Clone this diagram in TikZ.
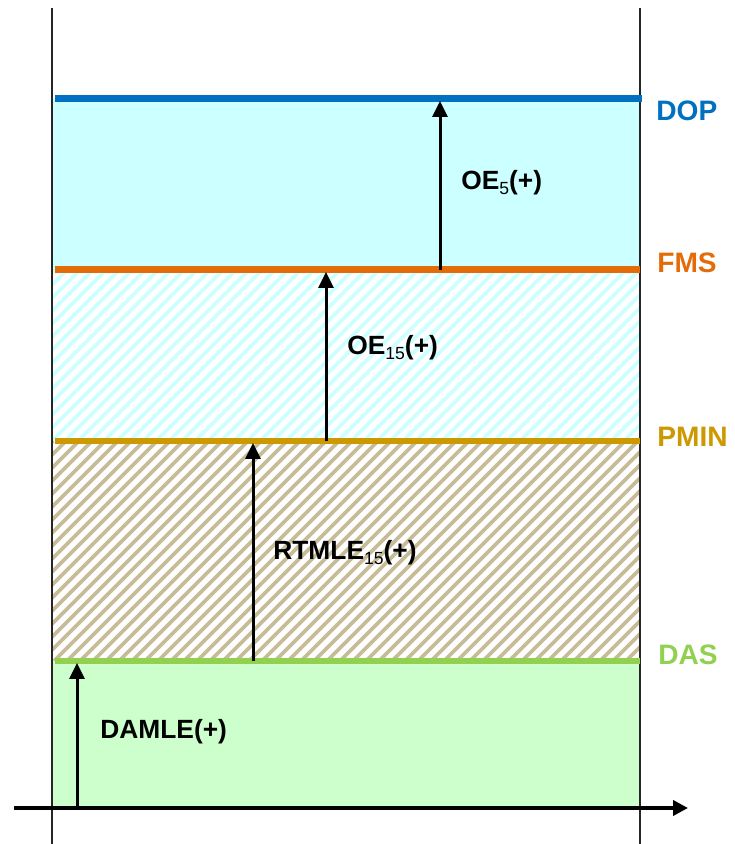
\documentclass[tikz,border=0pt]{standalone}
\usepackage{fontspec}
\setmainfont{Liberation Sans}
\usepackage{xcolor}
\usetikzlibrary{arrows.meta, positioning, calc}
\definecolor{dopblue}{HTML}{0070C0}
\definecolor{fmsorange}{HTML}{E36C09}
\definecolor{pmingold}{HTML}{CC9900}
\definecolor{dasgreen}{HTML}{92D050}
\definecolor{cyanfill}{HTML}{CCFFFF}
\definecolor{greenfill}{HTML}{CCFFCC}
\definecolor{tanstripe}{HTML}{C6BC98}
\tikzset{
    border/.style={line width=0.04cm, black!85},
    level/.style={line width=0.14cm},
    axis/.style={-{Triangle[length=0.3cm, width=0.3cm]}, line width=0.09cm},
    rise/.style={-{Triangle[length=0.32cm, width=0.3cm]}, line width=0.06cm},
    stripe/.style={line width=0.075cm, #1},
    inlabel/.style={anchor=base west, inner sep=0pt, font=\fontsize{15}{18}\selectfont\bfseries},
    lvllabel/.style={anchor=base west, inner sep=0pt, font=\fontsize{16}{19}\selectfont\bfseries}
}
\newcommand{\subs}[1]{\raisebox{-2.3pt}{\fontsize{10}{12}\selectfont\mdseries #1}}

\begin{document}
\begin{tikzpicture}[x=0.02cm, y=0.02cm]
    \useasboundingbox (0,0) rectangle (734,844);
    % Bands
    \fill[greenfill] (52,36) rectangle (640,183);
    \begin{scope}
        \clip (52,183) rectangle (640,403);
        \foreach \s in {-180,-167,...,640}
            \draw[stripe=tanstripe] (\s,183) -- ++(220,220);
    \end{scope}
    \begin{scope}
        \clip (52,403) rectangle (640,574);
        \foreach \s in {-130,-117,...,640}
            \draw[stripe=cyanfill] (\s,403) -- ++(171,171);
    \end{scope}
    \fill[cyanfill] (52,574) rectangle (640,745);
    % Frame
    \coordinate (frameTL) at (52,836);
    \coordinate (frameBL) at (52,0);
    \coordinate (frameTR) at (640,836);
    \coordinate (frameBR) at (640,0);
    \draw[border] (frameTL) -- (frameBL);
    \draw[border] (frameTR) -- (frameBR);
    % Levels
    \coordinate (dopL) at (55,745);  \coordinate (dopR) at (642,745);
    \coordinate (fmsL) at (55,574);  \coordinate (fmsR) at (640,574);
    \coordinate (pminL) at (55,403); \coordinate (pminR) at (640,403);
    \coordinate (dasL) at (55,183);  \coordinate (dasR) at (640,183);
    \draw[level, dopblue] (dopL) -- (dopR);
    \draw[level, fmsorange] (fmsL) -- (fmsR);
    \draw[level, pmingold, line width=0.11cm] (pminL) -- (pminR);
    \draw[level, dasgreen, line width=0.11cm] (dasL) -- (dasR);
    \node[lvllabel, dopblue] (dop) at (656,723) {DOP};
    \node[lvllabel, fmsorange] (fms) at (657,571) {FMS};
    \node[lvllabel, pmingold] (pmin) at (657,397) {PMIN};
    \node[lvllabel, dasgreen] (das) at (658,179) {DAS};
    % Axis
    \coordinate (axisL) at (14,36);
    \coordinate (axisR) at (688,36);
    \draw[axis] (axisL) -- (axisR);
    % Margins
    \coordinate (damleFoot) at (77,36);   \coordinate (damleTip) at (77,181);
    \coordinate (rtmleFoot) at (253,183); \coordinate (rtmleTip) at (253,401);
    \coordinate (oeXVFoot) at (326,403);  \coordinate (oeXVTip) at (326,572);
    \coordinate (oeVFoot) at (440,574);   \coordinate (oeVTip) at (440,743);
    \draw[rise] (damleFoot) -- (damleTip);
    \draw[rise] (rtmleFoot) -- (rtmleTip);
    \draw[rise] (oeXVFoot) -- (oeXVTip);
    \draw[rise] (oeVFoot) -- (oeVTip);
    \node[inlabel] (damle) at (100,105) {DAMLE(+)};
    \node[inlabel] (rtmle) at (273,284) {RTMLE\subs{15}(+)};
    \node[inlabel] (oeXV) at (347,489) {OE\subs{15}(+)};
    \node[inlabel] (oeV) at (461,654) {OE\subs{5}(+)};
\end{tikzpicture}
\end{document}
